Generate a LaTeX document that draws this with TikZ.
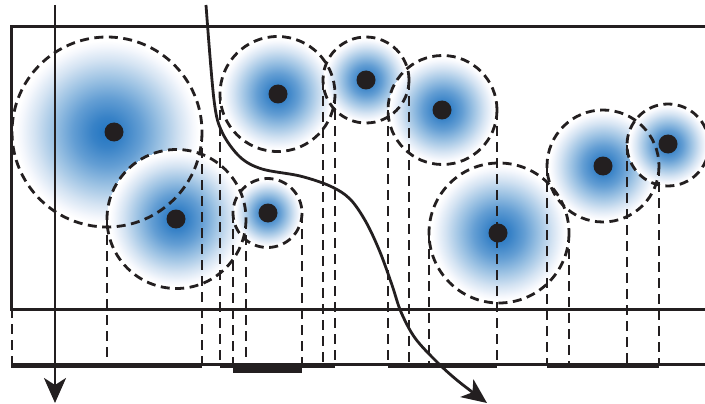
\documentclass[tikz,border=0pt]{standalone}
\usepackage{xcolor}
\usetikzlibrary{arrows.meta}
\definecolor{ink}{RGB}{35,31,32}
\pgfdeclareradialshading{glow}{\pgfpoint{0bp}{0bp}}{%
  rgb(0bp)=(0.13,0.46,0.76);
  rgb(8bp)=(0.22,0.51,0.78);
  rgb(18bp)=(0.39,0.62,0.83);
  rgb(28bp)=(0.61,0.76,0.89);
  rgb(38bp)=(0.83,0.89,0.95);
  rgb(45bp)=(0.96,0.97,0.99);
  rgb(48bp)=(1,1,1);
  rgb(50bp)=(1,1,1)}

\begin{document}
\begin{tikzpicture}[x=1pt,y=-1pt,
    frame/.style={ink,line width=3pt},
    ring/.style={ink,line width=2.8pt,dash pattern=on 9pt off 5.5pt},
    proj/.style={ink,line width=2.8pt,dash pattern=on 10pt off 6pt},
    dot/.style={circle,fill=ink,inner sep=0pt,minimum size=19pt},
    flow/.style={ink,line width=2.8pt,-{Stealth[length=25pt,width=22pt,inset=7pt]}}]
  \useasboundingbox (0,0) rectangle (705,404);
  % shaded covers
  \foreach \n/\cx/\cy/\r in {1/107/132/95,2/176.5/219/69.5,3/267.5/213/34.5,
      4/277.5/94/57.5,5/366/80/43,6/442.5/110/54.5,7/499/233/70,
      8/603/166/56,9/668/145/41}{
    \begin{scope}
      \clip (\cx,\cy) circle[radius=\r];
      \node[inner sep=0pt,scale=\r/50] (g\n) at (\cx,\cy) {\pgfuseshading{glow}};
    \end{scope}
  }
  % frame
  \draw[frame] (705,27) -- (11,27) -- (11,309) -- (705,309);
  \draw[ink,line width=3.3pt] (11,364.3) -- (705,364.3);
  % dashed rings and their projections
  \foreach \n/\cx/\cy/\r in {1/107/132/95,2/176.5/219/69.5,3/267.5/213/34.5,
      4/277.5/94/57.5,5/366/80/43,6/442.5/110/54.5,7/499/233/70,
      8/603/166/56,9/668/145/41}{
    \draw[ring] (\cx,\cy) circle[radius=\r];
    \draw[proj] (\cx-\r,\cy) -- (\cx-\r,364);
    \draw[proj] (\cx+\r,\cy) -- (\cx+\r,364);
  }
  % chosen intervals on the line
  \foreach \a/\b in {11/202,220/335,388/497,547/659}{
    \fill[ink] (\a,362.7) rectangle (\b,368.3);
  }
  \fill[ink] (233,362.7) rectangle (302,373.3);
  % points
  \foreach \n/\px/\py in {1/114/132,2/176/219,3/268/213,4/278/94,5/366/80,
      6/442/110,7/498/233,8/603/166,9/668/144}{
    \node[dot] (p\n) at (\px,\py) {};
  }
  % sweep line and path
  \coordinate (sweepTop) at (55,5);
  \coordinate (sweepEnd) at (55,403);
  \draw[flow] (sweepTop) -- (sweepEnd);
  \coordinate (pathStart) at (206,5);
  \coordinate (pathEnd) at (487,403);
  \draw[flow] plot[smooth,tension=0.55] coordinates {(pathStart) (214,100)
      (222,132) (240,157) (262,169) (300,176) (330,186) (350,199) (366,222)
      (380,252) (392,285) (401,312) (415,338) (437,362) (458,381) (pathEnd)};
\end{tikzpicture}
\end{document}
